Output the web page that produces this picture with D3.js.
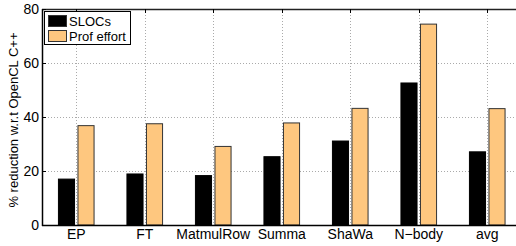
<!DOCTYPE html>
<html><head><meta charset="utf-8">
<script src="https://cdn.jsdelivr.net/npm/d3@7"></script>
<style>body{margin:0;background:#fff}svg{display:block}text{font-family:"Liberation Sans",Arial,sans-serif}</style>
</head><body><svg id="c" width="516" height="246"></svg>
<script>
const categories = ["EP","FT","MatmulRow","Summa","ShaWa","N\u2212body","avg"];
const slocs = [17.0, 18.9, 18.3, 25.3, 31.1, 52.6, 27.1];
const profEffort = [36.8, 37.5, 29.1, 37.8, 43.2, 74.4, 43.1];
const seriesNames = ["SLOCs","Prof effort"];
const yTicks = [0,20,40,60,80];

const svg = d3.select("#c");
const L = 42, T = 9, B = 225, unit = 68.5;
const x = d3.scaleLinear().domain([0.5, 7.5]).range([L, L + unit*7]);
const y = d3.scaleLinear().domain([0, 80]).range([B, T]);
const R = x(7.5);

// grid
const g = svg.append("g");
g.selectAll(".hg").data(yTicks.slice(1,4)).enter().append("line")
  .attr("x1", L).attr("x2", R).attr("y1", d=>y(d)+0.5).attr("y2", d=>y(d)+0.5)
  .attr("stroke","#aaa").attr("stroke-width",1).attr("stroke-dasharray","1,2");
g.selectAll(".vg").data(categories).enter().append("line")
  .attr("x1",(d,i)=>Math.round(x(i+1))+0.5).attr("x2",(d,i)=>Math.round(x(i+1))+0.5)
  .attr("y1", T).attr("y2", B)
  .attr("stroke","#aaa").attr("stroke-width",1).attr("stroke-dasharray","1,2");

// bars
const bw = 0.235;
svg.selectAll(".b1").data(slocs).enter().append("rect")
  .attr("x",(d,i)=>x(i+1-0.025-bw)).attr("width",x(bw)-x(0))
  .attr("y",d=>y(d)).attr("height",d=>y(0)-y(d))
  .attr("fill","#000").attr("stroke","#000").attr("stroke-width",1);
svg.selectAll(".b2").data(profEffort).enter().append("rect")
  .attr("x",(d,i)=>x(i+1+0.025)).attr("width",x(bw)-x(0))
  .attr("y",d=>y(d)).attr("height",d=>y(0)-y(d))
  .attr("fill","#fec77f").attr("stroke","#333").attr("stroke-width",1);

// frame
svg.append("line").attr("x1",L).attr("x2",R).attr("y1",T+0.5).attr("y2",T+0.5).attr("stroke","#222").attr("stroke-width",1.5);
svg.append("line").attr("x1",L).attr("x2",R).attr("y1",B+0.5).attr("y2",B+0.5).attr("stroke","#000").attr("stroke-width",1.5);
svg.append("line").attr("x1",L+0.5).attr("x2",L+0.5).attr("y1",T).attr("y2",B+1).attr("stroke","#000").attr("stroke-width",1.5);

// y axis ticks
svg.selectAll(".yt").data(yTicks).enter().append("line")
  .attr("x1",L).attr("x2",L+4).attr("y1",d=>y(d)+0.5).attr("y2",d=>y(d)+0.5).attr("stroke","#000");
svg.selectAll(".yl").data(yTicks).enter().append("text")
  .attr("x",L-3).attr("y",d=>y(d)+5).attr("text-anchor","end").attr("font-size",14).text(d=>d);
// x ticks (top, inward)
svg.selectAll(".xt").data(categories).enter().append("line")
  .attr("x1",(d,i)=>Math.round(x(i+1))+0.5).attr("x2",(d,i)=>Math.round(x(i+1))+0.5)
  .attr("y1",T).attr("y2",T+4).attr("stroke","#000");
svg.selectAll(".xl").data(categories).enter().append("text")
  .attr("x",(d,i)=>x(i+1)).attr("y",239).attr("text-anchor","middle").attr("font-size",14).text(d=>d);

// y label
svg.append("text").attr("transform","translate(18,120) rotate(-90)")
  .attr("text-anchor","middle").attr("font-size",13).text("% reduction w.r.t OpenCL C++");

// legend
const lg = svg.append("g");
lg.append("rect").attr("x",44.5).attr("y",11.5).attr("width",86).attr("height",33)
  .attr("fill","#fff").attr("stroke","#000").attr("stroke-width",1);
const cols = ["#000","#fec77f"];
seriesNames.forEach((n,i)=>{
  lg.append("rect").attr("x",48.5).attr("y",15.5+i*15).attr("width",18).attr("height",11)
    .attr("fill",cols[i]).attr("stroke","#333");
  lg.append("text").attr("x",69).attr("y",25.5+i*15).attr("font-size",13).text(n);
});
</script></body></html>
